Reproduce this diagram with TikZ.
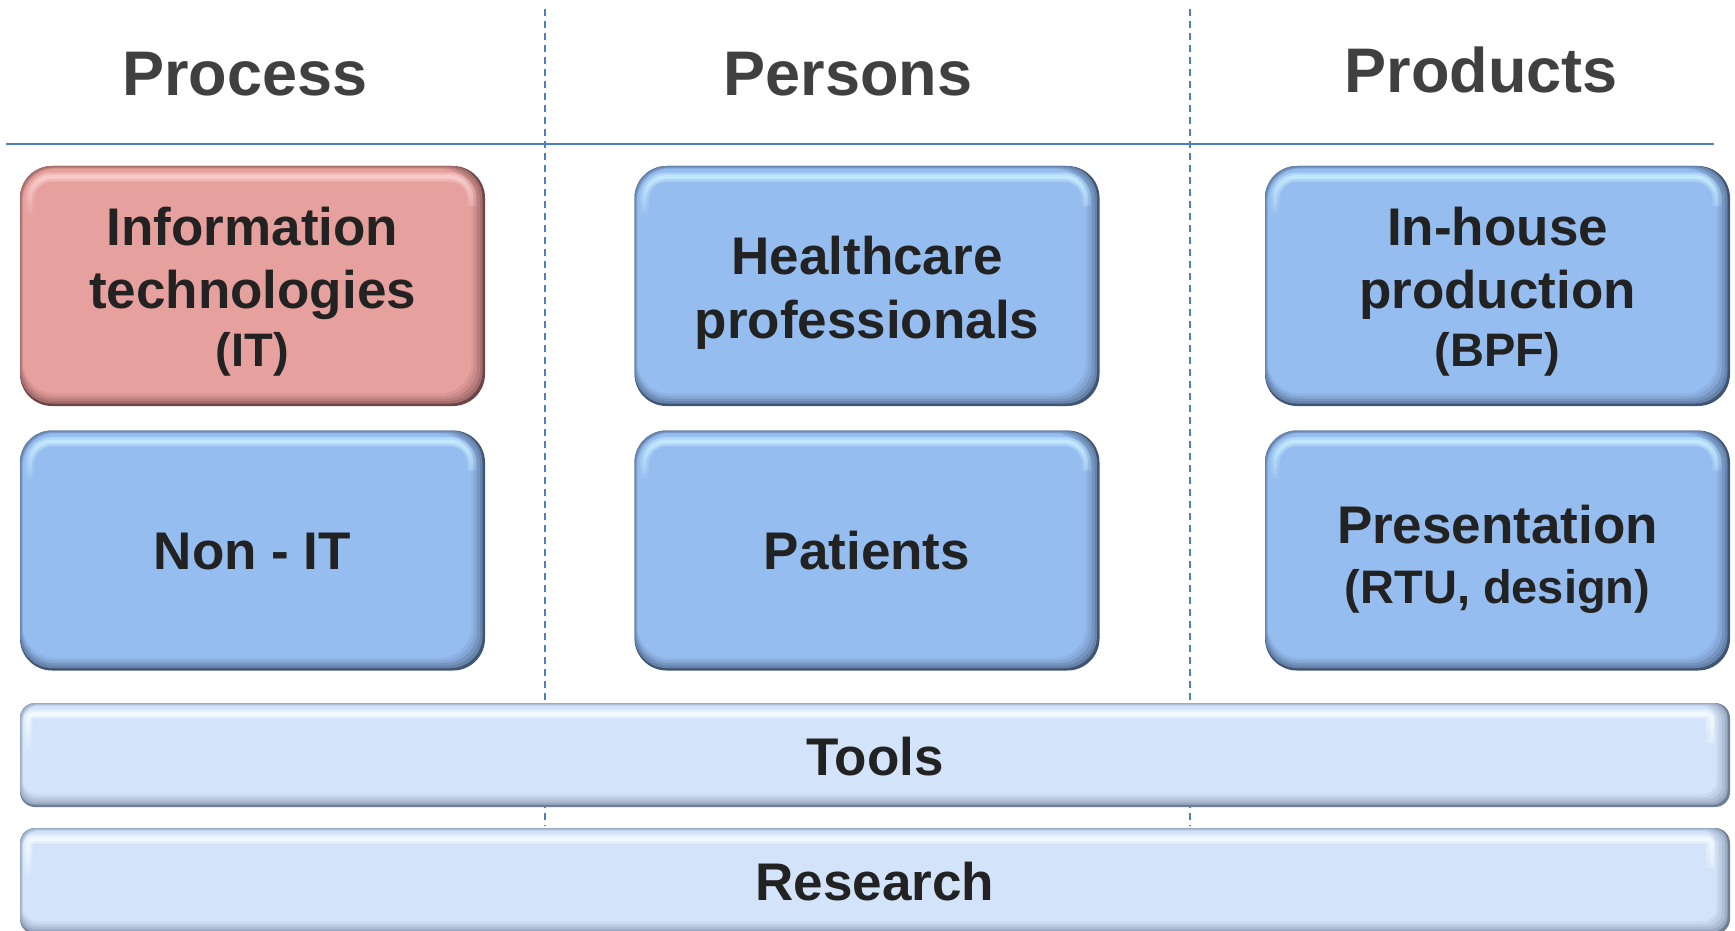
\documentclass[tikz,border=0pt]{standalone}
\usepackage{fontspec}
\setmainfont{Liberation Sans}
\usetikzlibrary{calc,fadings}
\definecolor{blueBase}{HTML}{96BDEF}
\definecolor{blueDark}{HTML}{3F5573}
\definecolor{blueHl}{HTML}{C8EEFF}
\definecolor{pinkBase}{HTML}{E6A09E}
\definecolor{pinkDark}{HTML}{6E4446}
\definecolor{pinkHl}{HTML}{FAD0D0}
\definecolor{barBase}{HTML}{D3E4FA}
\definecolor{barDark}{HTML}{6F7F98}
\definecolor{barHl}{HTML}{F6FCFF}
\definecolor{lineBlue}{HTML}{4A7FC6}
\definecolor{hdrc}{HTML}{404040}
\definecolor{txtc}{HTML}{222222}
\tikzfading[name=fadedown, top color=transparent!0, bottom color=transparent!100]
\newcommand\mlines[1]{\begin{tabular}[t]{@{}c@{}}#1\end{tabular}}
\newcommand\smallln[1]{{\fontsize{47}{56}\selectfont #1}}
\tikzset{
  bevel/.style n args={5}{rectangle, rounded corners=#4, inner sep=0pt, fill=#2, draw=none,
    path picture={
      \coordinate (SW) at (path picture bounding box.south west);
      \coordinate (NE) at (path picture bounding box.north east);
      \coordinate (NW) at (SW|-NE);
      \fill[#1!45!#2, rounded corners=#4] ($(SW)+(0pt,2.5pt)$) rectangle ($(NE)+(-2.5pt,0pt)$);
      \fill[#1!62!#2, rounded corners=#4] ($(SW)+(1.2pt,5pt)$) rectangle ($(NE)+(-5pt,-1.2pt)$);
      \fill[#1!78!#2, rounded corners=#4] ($(SW)+(2pt,7.5pt)$) rectangle ($(NE)+(-8pt,-2pt)$);
      \fill[#1!90!#2, rounded corners=#4] ($(SW)+(2.5pt,10pt)$) rectangle ($(NE)+(-11pt,-2.5pt)$);
      \fill[#1, rounded corners=#4] ($(SW)+(3pt,12.5pt)$) rectangle ($(NE)+(-13.5pt,-3pt)$);
      \draw[#3, line width=9pt, opacity=.55, rounded corners=#5, path fading=fadedown]
        ($(NW)+(10pt,-48pt)$) -- ($(NW)+(10pt,-11pt)$) -- ($(NE)+(-13pt,-11pt)$) -- ($(NE)+(-13pt,-40pt)$);
      \draw[#3, line width=4pt, opacity=.8, rounded corners=#5, path fading=fadedown]
        ($(NW)+(10pt,-48pt)$) -- ($(NW)+(10pt,-11pt)$) -- ($(NE)+(-13pt,-11pt)$) -- ($(NE)+(-13pt,-40pt)$);
    }},
  bluebox/.style={bevel={blueBase}{blueDark}{blueHl}{32pt}{22pt}, minimum width=465pt, minimum height=240pt},
  pinkbox/.style={bevel={pinkBase}{pinkDark}{pinkHl}{32pt}{22pt}, minimum width=465pt, minimum height=240pt},
  barbox/.style={bevel={barBase}{barDark}{barHl}{15pt}{6pt}, minimum width=1710pt},
  boxtxt/.style={font=\fontsize{53}{63}\selectfont\bfseries, text=txtc, inner sep=0pt, anchor=base},
  hdr/.style={font=\fontsize{63}{70}\selectfont\bfseries, text=hdrc, inner sep=0pt, anchor=base},
  dashline/.style={draw=lineBlue, line width=1.3pt, dash pattern=on 7pt off 5pt},
  rule/.style={draw=lineBlue, line width=2pt},
}
\begin{document}
\begin{tikzpicture}[x=1pt, y=-1pt]
\useasboundingbox (0,0) rectangle (1735,931);
\fill[white] (0,0) rectangle (1735,931);

% column separators
\coordinate (d1t) at (545,9);
\coordinate (d1b) at (545,826);
\coordinate (d2t) at (1190,9);
\coordinate (d2b) at (1190,826);
\draw[dashline] (d1t) -- (d1b);
\draw[dashline] (d2t) -- (d2b);

% header rule
\coordinate (rl) at (6,144);
\coordinate (rr) at (1714,144);
\draw[rule] (rl) -- (rr);

% headers
\node[hdr] (h1) at (245,96) {Process};
\node[hdr] (h2) at (848,96) {Persons};
\node[hdr] (h3) at (1481,93) {Products};

% boxes
\node[pinkbox] (b1) at (252.5,286) {};
\node[bluebox] (b2) at (867,286) {};
\node[bluebox] (b3) at (1497.5,286) {};
\node[bluebox] (b4) at (252.5,550.5) {};
\node[bluebox] (b5) at (867,550.5) {};
\node[bluebox] (b6) at (1497.5,550.5) {};
\node[barbox, minimum height=104pt] (tools) at (875,755) {};
\node[barbox, minimum height=106pt] (research) at (875,881) {};

% texts
\node[boxtxt] (t1) at (252.5,245) {\mlines{Information\\technologies\\[-5pt]\smallln{(IT)}}};
\node[boxtxt] (t2) at (867,274) {\mlines{Healthcare\\[1pt]professionals}};
\node[boxtxt] (t3) at (1497.5,245) {\mlines{In-house\\production\\[-5pt]\smallln{(BPF)}}};
\node[boxtxt] (t4) at (252.5,569) {Non - IT};
\node[boxtxt] (t5) at (867,569) {Patients};
\node[boxtxt] (t6) at (1497.5,543) {\mlines{Presentation\\[-3pt]\smallln{(RTU, design)}}};
\node[boxtxt] (t7) at (875,775) {Tools};
\node[boxtxt] (t8) at (875,900) {Research};
\end{tikzpicture}
\end{document}
